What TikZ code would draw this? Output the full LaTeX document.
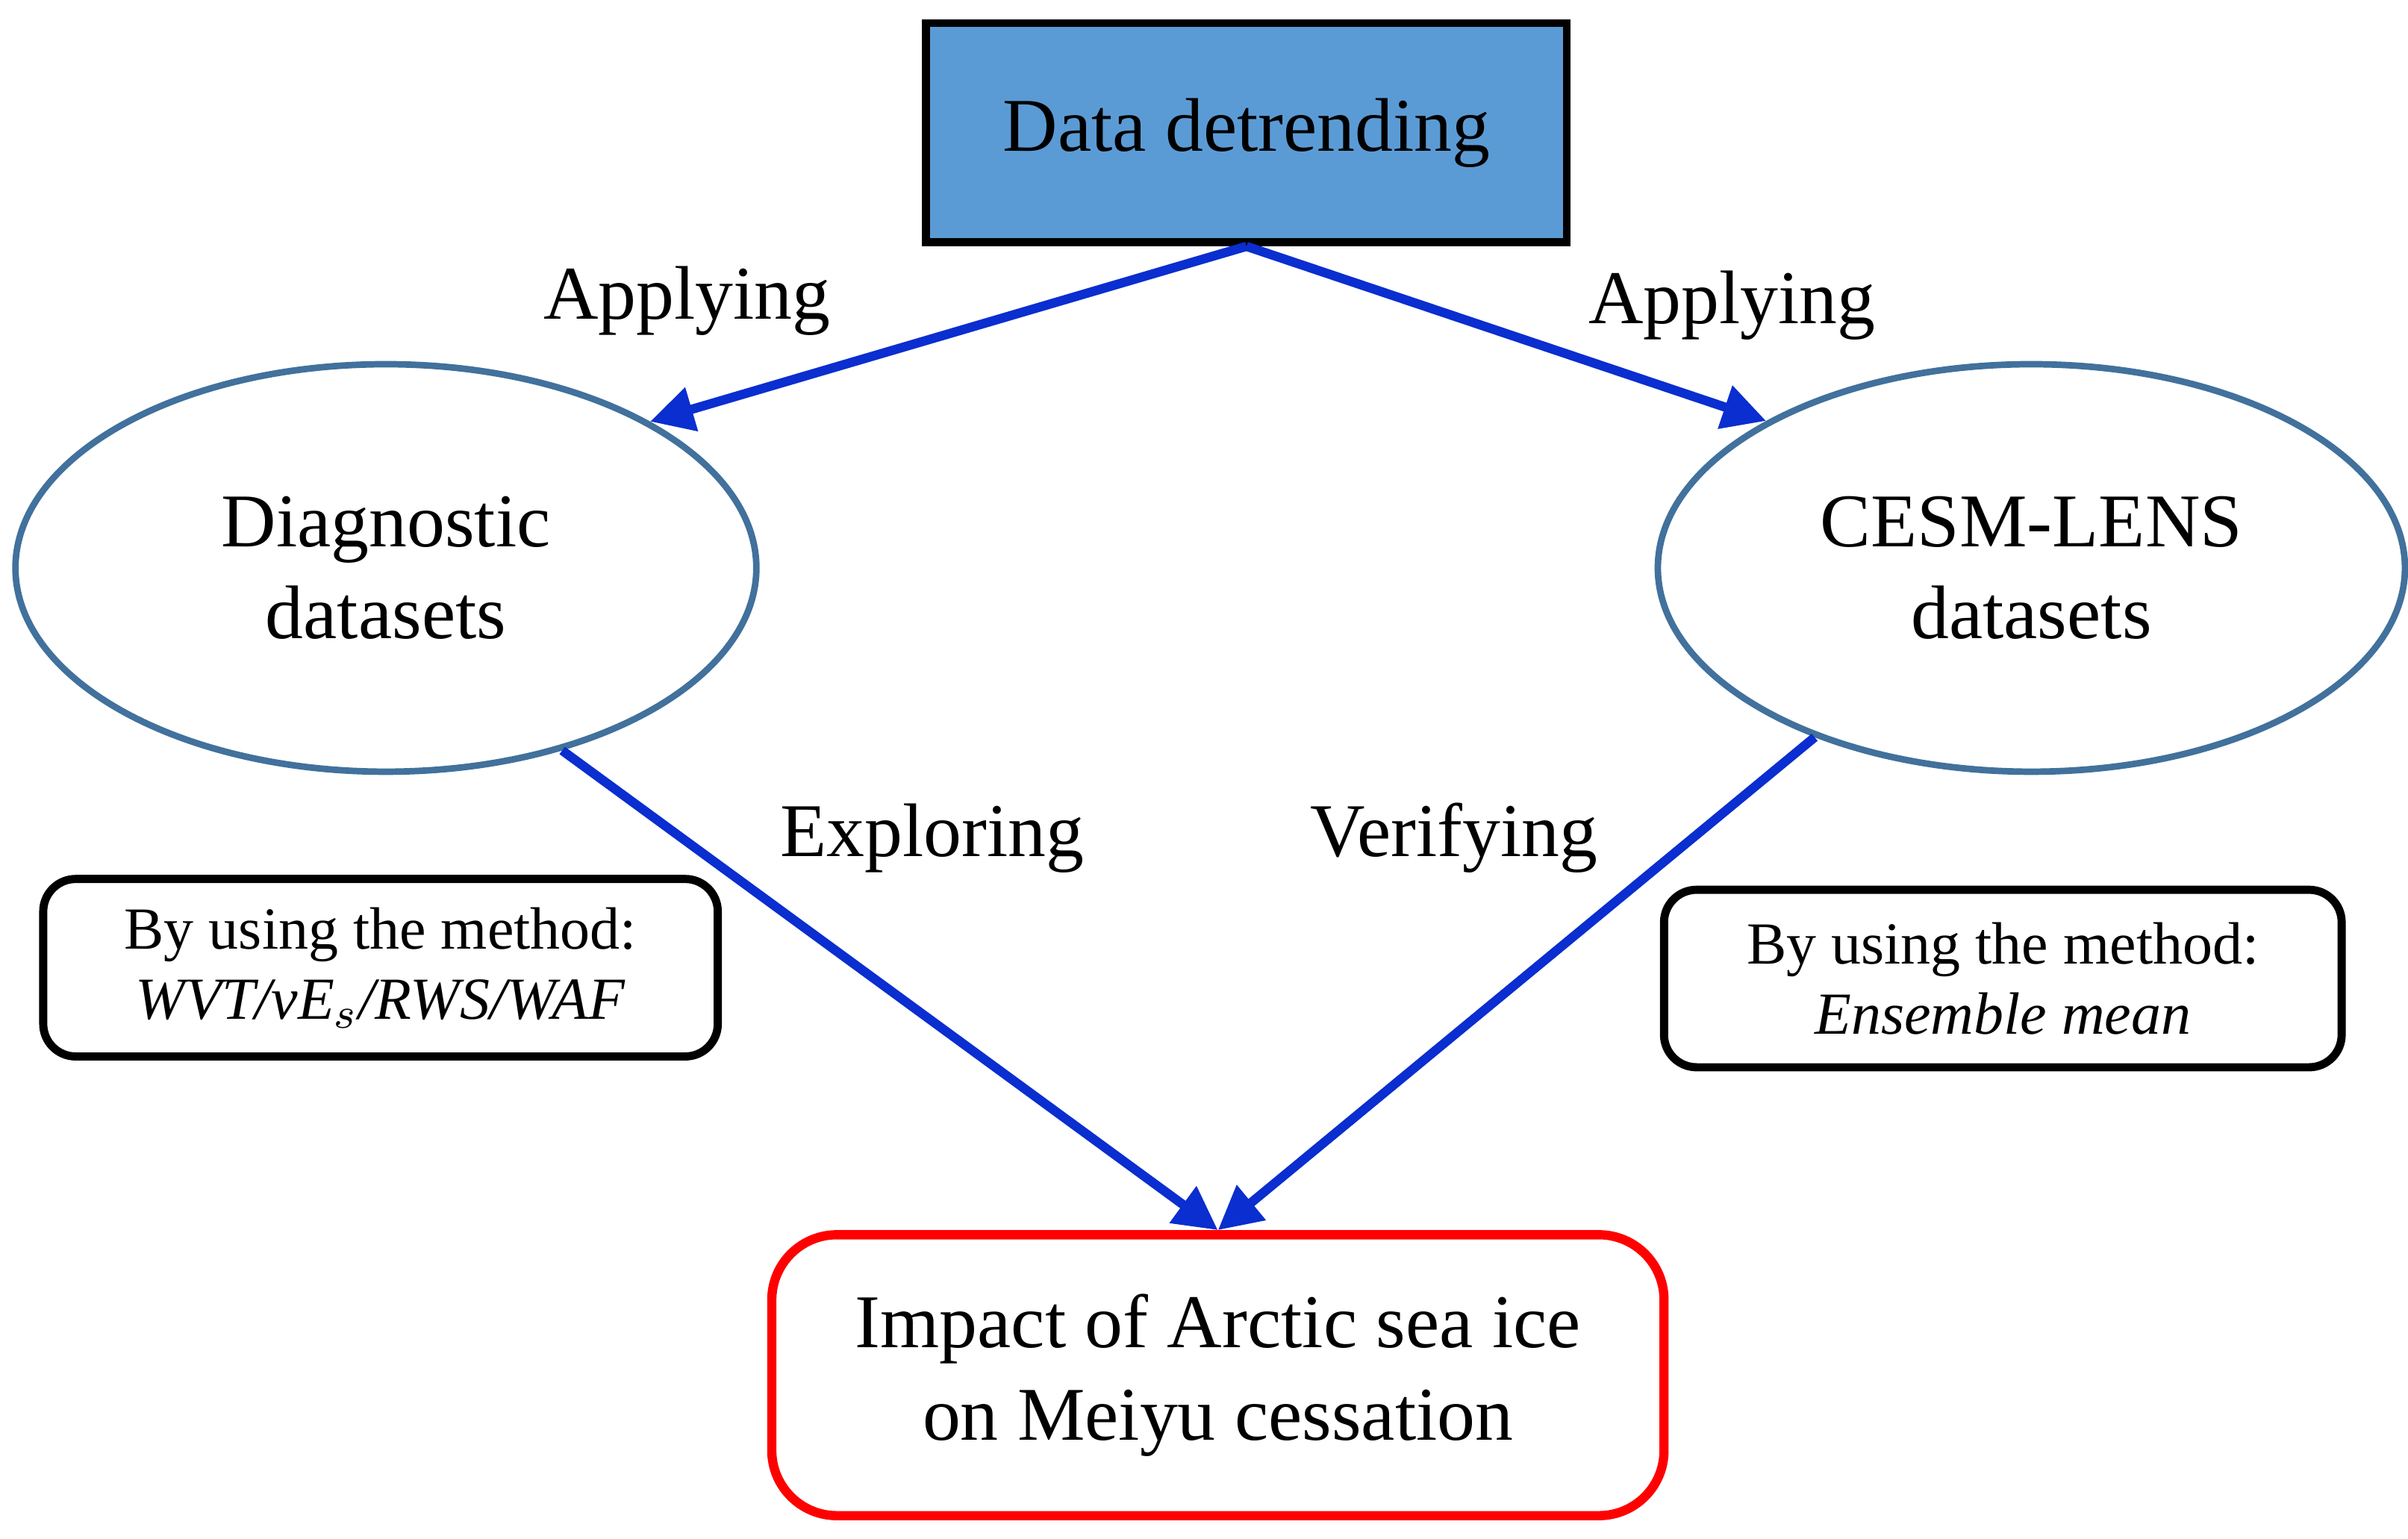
\documentclass[tikz,border=0pt]{standalone}
\usepackage{fontspec}
\setmainfont{Liberation Serif}
\usetikzlibrary{arrows.meta,shapes.geometric}
\definecolor{boxblue}{HTML}{5B9BD5}
\definecolor{ringblue}{HTML}{41719C}
\definecolor{arrblue}{HTML}{0A2ECF}
\tikzset{
  flow/.style={line width=1.7pt, color=arrblue, -{Triangle[length=8pt,width=8pt]}},
  ring/.style={ellipse, draw=ringblue, line width=1.2pt, minimum width=4.8cm, minimum height=2.64cm, align=center, font=\fontsize{14}{17}\selectfont},
  method/.style={draw, rounded corners=6pt, line width=1.5pt, minimum width=4.37cm, minimum height=1.15cm, align=center, font=\fontsize{11}{13}\selectfont},
  lbl/.style={font=\fontsize{14}{17}\selectfont}
}
\begin{document}
\begin{tikzpicture}
  \useasboundingbox (0,0) rectangle (15.6,9.97);

	% Nodes
  \node[draw, fill=boxblue, line width=1.5pt, minimum width=4.15cm, minimum height=1.42cm, font=\fontsize{14}{17}\selectfont] (dd) at (8.075,9.11) {Data detrending};
  \node[ring] (ld) at (2.50,6.29) {Diagnostic\\datasets};
  \node[ring, minimum width=4.84cm] (rd) at (13.16,6.29) {CESM-LENS\\datasets};
  \node[draw=red, line width=1.7pt, rounded corners=12pt, minimum width=5.78cm, minimum height=1.82cm, align=center, font=\fontsize{14}{17}\selectfont] (im) at (7.89,1.06) {Impact of Arctic sea ice\\on Meiyu cessation};
  \node[method] (lm) at (2.465,3.70) {By using the method:\\\textit{WVT/vE$_s$/RWS/WAF}};
  \node[method, minimum width=4.39cm] (rm) at (12.975,3.63) {By using the method:\\\textit{Ensemble mean}};

	% Arrows
  \draw[flow] (dd.south) -- (ld.29);
  \draw[flow] (dd.south) -- (rd.151);
  \draw[flow] (ld.-46) -- (im.north);
  \draw[flow] (rd.218) -- (im.north);

	% Labels
  \node[lbl] (a1) at (4.45,8.02) {Applying};
  \node[lbl] (a2) at (11.22,7.99) {Applying};
  \node[lbl] (ex) at (6.04,4.54) {Exploring};
  \node[lbl] (ve) at (9.42,4.54) {Verifying};
\end{tikzpicture}
\end{document}
